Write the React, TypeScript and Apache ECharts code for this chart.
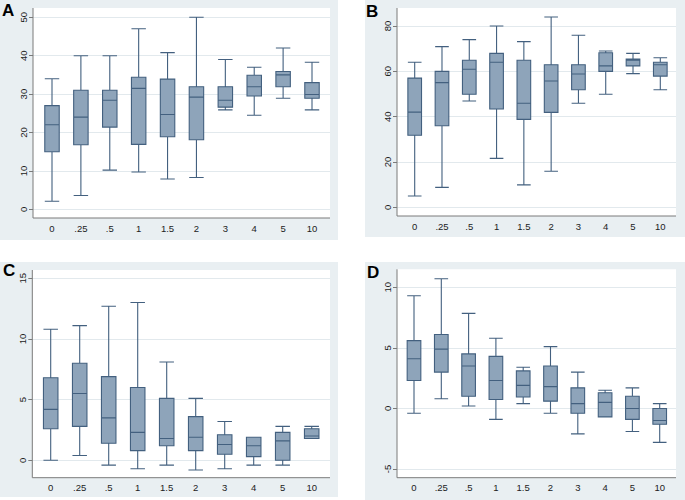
import React, { useEffect, useRef } from "react";
import * as echarts from "echarts";

const categories = ["0", ".25", ".5", "1", "1.5", "2", "3", "4", "5", "10"];

// [min, Q1, median, Q3, max]
const panelA = [
  [2.1, 15, 22, 27, 34],
  [3.6, 16.8, 24, 31, 40],
  [10.2, 21.4, 28.4, 31, 40],
  [9.7, 16.9, 31.5, 34.4, 47],
  [7.9, 18.9, 24.7, 33.9, 40.8],
  [8.3, 18.1, 29.2, 31.9, 50],
  [25.9, 26.6, 28.4, 31.9, 39],
  [24.5, 29.5, 31.9, 34.9, 37],
  [28.9, 31.9, 35, 35.9, 42],
  [25.9, 28.9, 29.9, 33, 38.3],
];
const panelB = [
  [5, 31.8, 42, 57, 64],
  [8.8, 36, 55, 60, 70.9],
  [46.9, 49.9, 60.9, 64.9, 74],
  [21.6, 43.4, 64, 67.9, 80],
  [9.9, 38.8, 45.9, 64.9, 73.1],
  [15.9, 41.9, 55.7, 62.9, 84],
  [45.9, 51.9, 58.8, 62.9, 75.9],
  [49.9, 60, 62.4, 68.2, 69],
  [59, 62.4, 64.9, 65.4, 67.9],
  [51.9, 57.9, 62.9, 64, 66],
];
const panelC = [
  [0, 2.6, 4.2, 6.8, 10.8],
  [0.4, 2.8, 5.5, 8, 11.1],
  [-0.4, 1.4, 3.5, 6.9, 12.7],
  [-0.7, 0.8, 2.3, 6.0, 13],
  [-0.4, 1.2, 1.8, 5.1, 8.1],
  [-0.8, 0.8, 1.9, 3.6, 5.1],
  [-0.7, 0.5, 1.3, 2.1, 3.2],
  [-0.4, 0.3, 1.2, 1.9, 1.9],
  [-0.4, 0, 1.6, 2.3, 2.8],
  [1.8, 1.8, 2.0, 2.6, 2.8],
];
const panelD = [
  [-0.4, 2.3, 4.1, 5.6, 9.3],
  [0.8, 3.0, 4.9, 6.1, 10.7],
  [0.2, 1.0, 3.5, 4.5, 7.85],
  [-0.9, 0.74, 2.3, 4.3, 5.8],
  [0.4, 0.94, 1.9, 3.1, 3.4],
  [-0.4, 0.6, 1.8, 3.5, 5.1],
  [-2.1, -0.4, 0.4, 1.7, 3.0],
  [-0.7, -0.7, 0.5, 1.3, 1.5],
  [-1.9, -0.9, 0, 1.0, 1.7],
  [-2.8, -1.3, -1.0, 0, 0.4],
];

const panelLetters = ["A", "B", "C", "D"];
const yMins = [0, 0, 0, -5];
const yMaxs = [50, 80, 15, 10];
const yIntervals = [10, 20, 5, 5];

// layout (pixels)
const layouts = [
  { bg: [0, 0, 338, 240], plot: [33, 8, 330, 218], first: 52, last: 312, yTop: 17.3, yBot: 209.3, letter: [2, 2] },
  { bg: [365, 0, 685, 237], plot: [397, 8, 676, 216], first: 414.7, last: 660.3, yTop: 26, yBot: 207.3, letter: [366, 3] },
  { bg: [0, 262, 338, 497], plot: [32.3, 270, 330, 477.7], first: 50.7, last: 311.7, yTop: 278.3, yBot: 460.3, letter: [3, 262] },
  { bg: [365, 262, 685, 500], plot: [397, 269.3, 676, 477.7], first: 414, last: 659.7, yTop: 287.3, yBot: 469, letter: [367, 264] },
];

const allData = [panelA, panelB, panelC, panelD];

const BG = "#E9EFF2";
const FONT = "Liberation Sans, Arial, sans-serif";

export default function App() {
  const ref = useRef<HTMLDivElement>(null);
  useEffect(() => {
    if (!ref.current) return;
    const chart = echarts.init(ref.current, undefined, { renderer: "svg" });
    const grid: any[] = [];
    const xAxis: any[] = [];
    const yAxis: any[] = [];
    const series: any[] = [];
    const graphic: any[] = [];
    layouts.forEach((L, i) => {
      const spacing = (L.last - L.first) / (categories.length - 1);
      const [px0, py0, px1, py1] = L.plot;
      // background grid (labels, ticks, gridlines)
      grid.push({ left: px0, top: L.yTop, width: px1 - px0, height: L.yBot - L.yTop });
      xAxis.push({ type: "value", gridIndex: 2 * i, show: false, min: 0, max: 1 });
      yAxis.push({
        type: "value",
        gridIndex: 2 * i,
        min: yMins[i],
        max: yMaxs[i],
        interval: yIntervals[i],
        axisLine: { show: false },
        axisTick: { show: true, length: 4, lineStyle: { color: "#7a7a7a" } },
        axisLabel: { rotate: 90, fontSize: 9.5, margin: 5, color: "#222", fontFamily: FONT },
        splitLine: { show: true, lineStyle: { color: "#E2E9ED", width: 1 } },
      });
      // data grid
      const left = L.first - spacing / 2;
      grid.push({ left, top: L.yTop, width: spacing * categories.length, height: L.yBot - L.yTop });
      xAxis.push({
        type: "category",
        gridIndex: 2 * i + 1,
        data: categories,
        offset: py1 - L.yBot,
        axisLine: { show: false },
        axisTick: { show: false },
        axisLabel: { fontSize: 9.5, margin: 5, color: "#222", fontFamily: FONT, interval: 0 },
        splitLine: { show: false },
      });
      yAxis.push({ type: "value", gridIndex: 2 * i + 1, min: yMins[i], max: yMaxs[i], show: false });
      series.push({
        type: "boxplot",
        xAxisIndex: 2 * i + 1,
        yAxisIndex: 2 * i + 1,
        data: allData[i],
        boxWidth: ["50%", "50%"],
        itemStyle: { color: "#8EA4BA", borderColor: "#43607F", borderWidth: 1.1 },
        z: 5,
      });
      const [bx0, by0, bx1, by1] = L.bg;
      graphic.push({
        type: "rect",
        z: -20,
        shape: { x: bx0, y: by0, width: bx1 - bx0, height: by1 - by0 },
        style: { fill: BG },
      });
      graphic.push({
        type: "rect",
        z: -10,
        shape: { x: px0, y: py0, width: px1 - px0, height: py1 - py0 },
        style: { fill: "#ffffff" },
      });
      graphic.push({
        type: "line",
        z: 10,
        shape: { x1: px0, y1: py0, x2: px0, y2: py1 },
        style: { stroke: "#7a7a7a", lineWidth: 1 },
      });
      graphic.push({
        type: "line",
        z: 10,
        shape: { x1: px0, y1: py1, x2: px1, y2: py1 },
        style: { stroke: "#7a7a7a", lineWidth: 1 },
      });
      graphic.push({
        type: "text",
        z: 10,
        x: L.letter[0],
        y: L.letter[1],
        style: {
          text: panelLetters[i],
          font: "bold 17px " + FONT,
          fill: "#000",
          textVerticalAlign: "top",
        },
      });
    });
    chart.setOption({
      animation: false,
      backgroundColor: "transparent",
      grid,
      xAxis,
      yAxis,
      series,
      graphic,
    });
    return () => chart.dispose();
  }, []);
  return (
    <div
      ref={ref}
      style={{ position: "absolute", left: 0, top: 0, width: 685, height: 500 }}
    />
  );
}
